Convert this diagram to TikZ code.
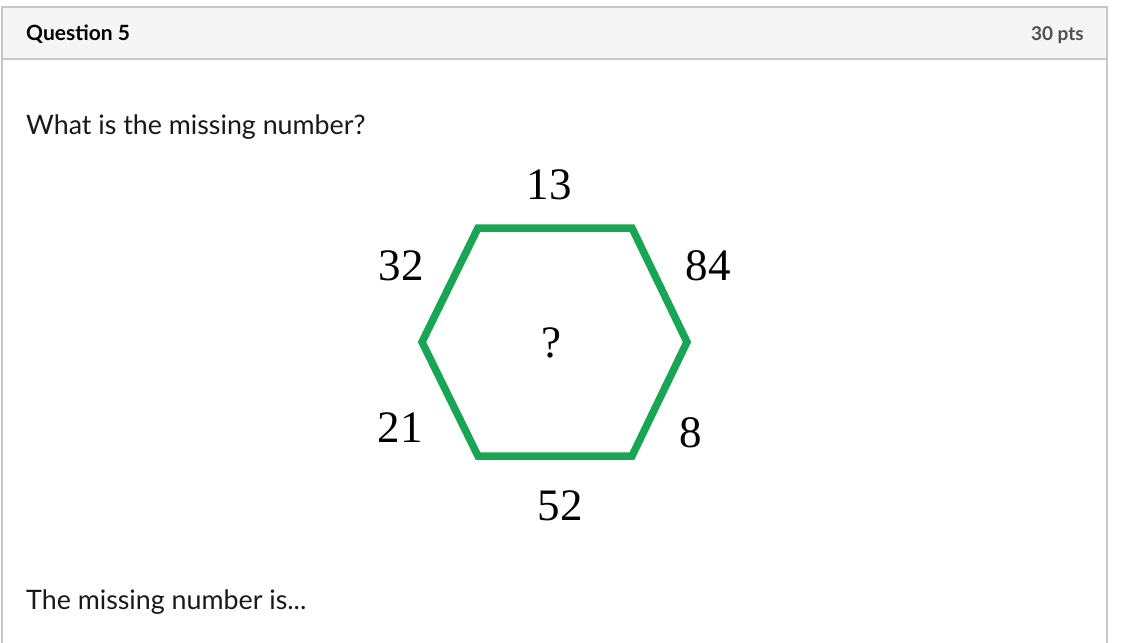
\documentclass[tikz,border=0pt]{standalone}
\usepackage{fontspec}
\setmainfont{Lato}
\newfontfamily\numfont{Liberation Serif}
\definecolor{hexgreen}{RGB}{24,166,84}
\definecolor{headbg}{RGB}{245,245,245}
\definecolor{boxline}{RGB}{199,199,199}
\definecolor{ptsgray}{RGB}{80,80,80}
\begin{document}
\begin{tikzpicture}[x=1pt,y=-1pt,
  num/.style={font=\numfont\fontsize{45}{45}\selectfont, inner sep=0pt, text=black},
  body/.style={font=\fontsize{26.8}{30}\selectfont, inner sep=0pt, anchor=base west, text=black!90}]
\useasboundingbox (0,0) rectangle (1128,643);
\fill[white] (0,0) rectangle (1128,643);
% header band
\fill[headbg] (2,7) rectangle (1107,59);
\draw[boxline, line width=1.3pt] (2,660) -- (2,7) -- (1107,7) -- (1107,660);
\draw[boxline, line width=1.3pt] (2,59) -- (1107,59);
\node[anchor=base west, inner sep=0pt, font=\bfseries\fontsize{21}{24}\selectfont] (q) at (26,40) {Question 5};
\node[anchor=base east, inner sep=0pt, font=\bfseries\fontsize{19}{24}\selectfont, text=ptsgray] (pts) at (1084,40) {30 pts};
\node[body] (ask) at (26,134) {What is the missing number?};
\node[body] (ans) at (26,609) {The missing number is...};
% hexagon
\coordinate (v1) at (478,228);
\coordinate (v2) at (632,228);
\coordinate (v3) at (687,342);
\coordinate (v4) at (632,456);
\coordinate (v5) at (478,456);
\coordinate (v6) at (422,342);
\draw[hexgreen, line width=7.5pt, line join=miter] (v1) -- (v2) -- (v3) -- (v4) -- (v5) -- (v6) -- cycle;
\node[num] (n13) at (549,185) {13};
\node[num] (n32) at (401,266) {32};
\node[num] (n84) at (708,266) {84};
\node[num] (nq) at (551,343) {?};
\node[num] (n21) at (400,428) {21};
\node[num] (n8) at (691,433) {8};
\node[num] (n52) at (560,506) {52};
\end{tikzpicture}
\end{document}
